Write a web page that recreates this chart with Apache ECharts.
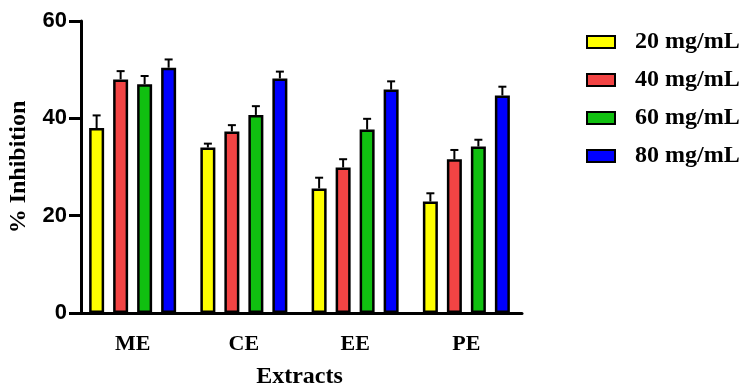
<!DOCTYPE html>
<html>
<head>
<meta charset="utf-8">
<script src="https://cdn.jsdelivr.net/npm/echarts@6/dist/echarts.min.js"></script>
<style>html,body{margin:0;padding:0;background:#fff;}#c{width:743px;height:387px;}</style>
</head>
<body>
<div id="c"></div>
<script>
const categories = ['ME', 'CE', 'EE', 'PE'];
const seriesNames = ['20 mg/mL', '40 mg/mL', '60 mg/mL', '80 mg/mL'];
const colors = ['#FFFF00', '#F24444', '#10C010', '#0000FF'];
const v20 = [38.0, 34.0, 25.6, 22.9];
const v40 = [48.0, 37.3, 29.9, 31.6];
const v60 = [47.0, 40.7, 37.7, 34.2];
const v80 = [50.4, 48.2, 45.9, 44.7];
const e20 = [2.6, 0.8, 2.2, 1.7];
const e40 = [1.7, 1.3, 1.7, 1.9];
const e60 = [1.7, 1.8, 2.2, 1.4];
const e80 = [1.7, 1.4, 1.7, 1.8];
const yTicks = [0, 20, 40, 60];

const values = [v20, v40, v60, v80];
const errors = [e20, e40, e60, e80];
const BAR_W = 15, BAR_GAP = 9;

const chart = echarts.init(document.getElementById('c'));
const series = [];
values.forEach((vals, s) => {
  series.push({
    name: seriesNames[s], type: 'bar', data: vals,
    barWidth: BAR_W, barGap: (BAR_GAP / BAR_W * 100) + '%',
    itemStyle: { color: colors[s], borderColor: '#000', borderWidth: 2.5 },
    z: 2
  });
});
values.forEach((vals, s) => {
  series.push({
    type: 'custom', name: 'err' + s,
    data: vals.map((v, i) => [i, v, v + errors[s][i]]),
    z: 1,
    renderItem: function (params, api) {
      const base = api.coord([api.value(0), api.value(1)]);
      const top = api.coord([api.value(0), api.value(2)]);
      const off = (s - 1.5) * (BAR_W + BAR_GAP);
      const x = base[0] + off;
      return {
        type: 'group', children: [
          { type: 'line', shape: { x1: x, y1: base[1], x2: x, y2: top[1] }, style: { stroke: '#000', lineWidth: 2 } },
          { type: 'line', shape: { x1: x - 4, y1: top[1], x2: x + 4, y2: top[1] }, style: { stroke: '#000', lineWidth: 2 } }
        ]
      };
    }
  });
});

chart.setOption({
  animation: false,
  backgroundColor: '#fff',
  grid: { left: 77, width: 445, top: 21, bottom: 74, containLabel: false, outerBoundsMode: 'none' },
  legend: {
    data: seriesNames, orient: 'vertical', left: 586, top: 30, padding: 0,
    itemWidth: 28, itemHeight: 12, itemGap: 14,
    icon: 'rect',
    textStyle: { fontFamily: 'Liberation Serif', fontWeight: 'bold', fontSize: 24, color: '#000', padding: [0, 0, 0, 15], lineHeight: 24 }
  },
  xAxis: {
    type: 'category', data: categories,
    name: 'Extracts', nameLocation: 'middle', nameGap: 52,
    nameTextStyle: { fontFamily: 'Liberation Serif', fontWeight: 'bold', fontSize: 24, color: '#000' },
    axisLine: { lineStyle: { color: '#000', width: 3 } },
    axisTick: { alignWithLabel: true, length: 11, lineStyle: { color: '#000', width: 3 } },
    axisLabel: { margin: 20, fontFamily: 'Liberation Serif', fontWeight: 'bold', fontSize: 22, color: '#000' }
  },
  yAxis: {
    type: 'value', min: 0, max: 60, interval: 20, offset: -4,
    name: '% Inhibition', nameLocation: 'middle', nameGap: 50,
    nameTextStyle: { fontFamily: 'Liberation Serif', fontWeight: 'bold', fontSize: 24, color: '#000' },
    splitLine: { show: false },
    axisLine: { show: true, lineStyle: { color: '#000', width: 3 } },
    axisTick: { show: true, length: 12, lineStyle: { color: '#000', width: 3 } },
    axisLabel: { margin: 14, fontFamily: 'Liberation Sans', fontWeight: 'bold', fontSize: 22, color: '#000',
      formatter: v => yTicks.includes(v) ? String(v) : '' }
  },
  series: series
});
</script>
</body>
</html>
